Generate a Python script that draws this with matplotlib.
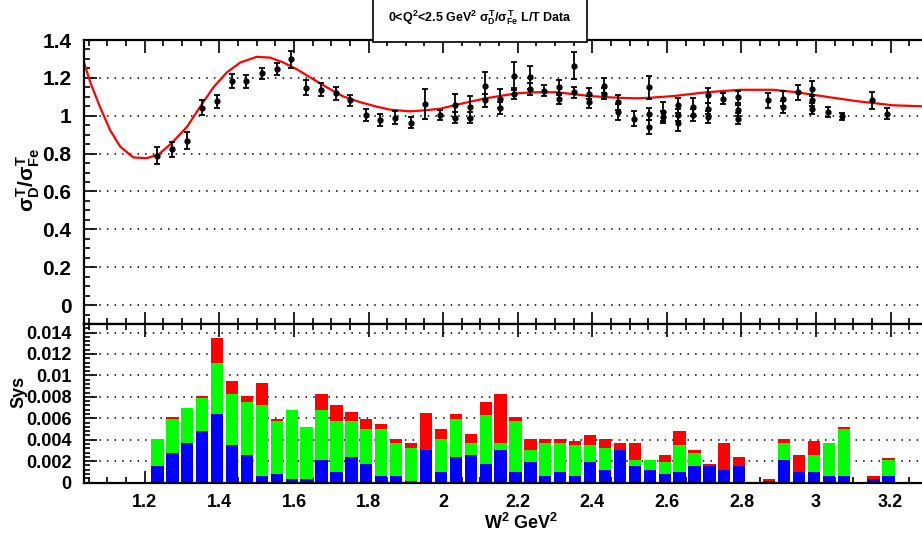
import numpy as np
import matplotlib
matplotlib.use("Agg")
import matplotlib.pyplot as plt
from matplotlib.ticker import MultipleLocator, FuncFormatter

plt.rcParams['font.family'] = ['Liberation Sans', 'DejaVu Sans']
plt.rcParams['mathtext.fontset'] = 'custom'
plt.rcParams['mathtext.rm'] = 'Liberation Sans:bold'
plt.rcParams['mathtext.it'] = 'Liberation Sans:bold'
plt.rcParams['mathtext.bf'] = 'Liberation Sans:bold'

# ratio data points (W^2, ratio, stat error)
w_pts = [1.234, 1.272, 1.314, 1.353, 1.393, 1.435, 1.472, 1.514, 1.554, 1.592,
         1.632, 1.672, 1.712, 1.750, 1.792, 1.831, 1.871, 1.913, 1.951, 1.992,
         2.032, 2.032, 2.072, 2.072, 2.112, 2.112, 2.152, 2.152, 2.191, 2.191,
         2.233, 2.233, 2.271, 2.311, 2.311, 2.351, 2.351, 2.391, 2.391, 2.430,
         2.430, 2.470, 2.470, 2.512, 2.553, 2.553, 2.553, 2.590, 2.590, 2.631,
         2.631, 2.631, 2.671, 2.671, 2.711, 2.711, 2.711, 2.751, 2.790, 2.790,
         2.790, 2.870, 2.910, 2.910, 2.951, 2.990, 2.990, 2.990, 3.031, 3.070,
         3.151, 3.189]
r_pts = [0.789, 0.823, 0.867, 1.043, 1.077, 1.182, 1.182, 1.224, 1.246, 1.298,
         1.147, 1.137, 1.119, 1.081, 1.003, 0.977, 0.990, 0.963, 1.063, 1.003,
         1.055, 0.990, 1.046, 0.990, 1.159, 1.081, 1.090, 1.040, 1.211, 1.116,
         1.203, 1.142, 1.133, 1.150, 1.090, 1.264, 1.124, 1.116, 1.072, 1.159,
         1.116, 1.072, 1.020, 0.985, 1.150, 1.010, 0.940, 1.020, 0.994, 1.055,
         1.003, 0.959, 1.046, 1.003, 1.107, 1.038, 0.994, 1.090, 1.098, 1.029,
         0.985, 1.081, 1.090, 1.046, 1.124, 1.142, 1.081, 1.038, 1.020, 0.997,
         1.081, 1.011]
e_pts = [0.045, 0.040, 0.045, 0.040, 0.035, 0.037, 0.035, 0.030, 0.030, 0.045,
         0.040, 0.035, 0.035, 0.030, 0.030, 0.030, 0.035, 0.030, 0.078, 0.025,
         0.060, 0.030, 0.060, 0.030, 0.070, 0.035, 0.050, 0.030, 0.075, 0.030,
         0.060, 0.030, 0.030, 0.040, 0.030, 0.070, 0.030, 0.030, 0.030, 0.040,
         0.030, 0.040, 0.040, 0.040, 0.060, 0.030, 0.035, 0.050, 0.030, 0.040,
         0.030, 0.040, 0.050, 0.030, 0.040, 0.030, 0.030, 0.030, 0.030, 0.030,
         0.030, 0.040, 0.040, 0.030, 0.040, 0.040, 0.030, 0.030, 0.025, 0.020,
         0.045, 0.030]

# fit curve
w_fit = [1.034, 1.055, 1.080, 1.107, 1.134, 1.169, 1.205, 1.236, 1.272, 1.313,
         1.348, 1.384, 1.420, 1.456, 1.500, 1.536, 1.572, 1.607, 1.643, 1.688,
         1.732, 1.777, 1.822, 1.858, 1.911, 1.947, 1.992, 2.036, 2.072, 2.117,
         2.161, 2.206, 2.251, 2.305, 2.349, 2.394, 2.439, 2.483, 2.519, 2.555,
         2.617, 2.707, 2.796, 2.885, 2.948, 3.028, 3.109, 3.207, 3.284]
r_fit = [1.300, 1.170, 1.046, 0.924, 0.837, 0.780, 0.776, 0.794, 0.855, 0.941,
         1.046, 1.150, 1.229, 1.281, 1.311, 1.307, 1.281, 1.246, 1.203, 1.150,
         1.102, 1.072, 1.048, 1.032, 1.023, 1.028, 1.037, 1.058, 1.074, 1.093,
         1.107, 1.120, 1.124, 1.124, 1.114, 1.104, 1.098, 1.094, 1.092, 1.095,
         1.104, 1.124, 1.137, 1.137, 1.124, 1.100, 1.077, 1.055, 1.050]

# systematic errors: stack tops for blue / green / red
w_sys = [1.234, 1.274, 1.314, 1.354, 1.394, 1.434, 1.474, 1.514, 1.554, 1.594,
         1.634, 1.674, 1.714, 1.754, 1.794, 1.834, 1.874, 1.914, 1.954, 1.994,
         2.034, 2.074, 2.114, 2.154, 2.194, 2.234, 2.274, 2.314, 2.354, 2.394,
         2.434, 2.474, 2.514, 2.554, 2.594, 2.634, 2.674, 2.714, 2.754, 2.794,
         2.874, 2.914, 2.954, 2.994, 3.034, 3.074, 3.154, 3.194]
blue_top = [0.0015, 0.0028, 0.0037, 0.0048, 0.0064, 0.0035, 0.0026, 0.0006, 0.0008, 0.0003,
            0.0003, 0.0021, 0.0010, 0.0024, 0.0017, 0.0006, 0.0006, 0.0001, 0.0030, 0.0010,
            0.0024, 0.0026, 0.0017, 0.0030, 0.0010, 0.0019, 0.0006, 0.0010, 0.0006, 0.0019,
            0.0012, 0.0030, 0.0015, 0.0012, 0.0008, 0.0010, 0.0015, 0.0015, 0.0012, 0.0015,
            0.0001, 0.0021, 0.0010, 0.0010, 0.0006, 0.0006, 0.0003, 0.0006]
green_top = [0.0041, 0.0059, 0.0070, 0.0079, 0.0112, 0.0083, 0.0075, 0.0072, 0.0057, 0.0068,
             0.0052, 0.0068, 0.0057, 0.0057, 0.0050, 0.0050, 0.0037, 0.0032, 0.0030, 0.0041,
             0.0059, 0.0037, 0.0063, 0.0037, 0.0057, 0.0030, 0.0037, 0.0037, 0.0035, 0.0035,
             0.0032, 0.0030, 0.0021, 0.0021, 0.0019, 0.0035, 0.0028, 0.0015, 0.0012, 0.0015,
             0.0001, 0.0037, 0.0010, 0.0026, 0.0037, 0.0050, 0.0003, 0.0021]
red_top = [0.0041, 0.0061, 0.0070, 0.0081, 0.0135, 0.0095, 0.0081, 0.0093, 0.0059, 0.0068,
           0.0052, 0.0083, 0.0072, 0.0066, 0.0059, 0.0055, 0.0041, 0.0037, 0.0065, 0.0050,
           0.0064, 0.0045, 0.0075, 0.0083, 0.0061, 0.0041, 0.0041, 0.0041, 0.0039, 0.0044,
           0.0041, 0.0037, 0.0037, 0.0021, 0.0026, 0.0048, 0.0030, 0.0017, 0.0037, 0.0024,
           0.0003, 0.0041, 0.0026, 0.0039, 0.0037, 0.0052, 0.0006, 0.0023]

fig = plt.figure(figsize=(9.22, 5.37), dpi=100)
L, R = 84 / 922, 1.0
ax1 = fig.add_axes([L, 1 - 324 / 537, R - L, (324 - 40) / 537])
ax2 = fig.add_axes([L, 1 - 482.5 / 537, R - L, (482.5 - 324) / 537], sharex=ax1)

gfmt = FuncFormatter(lambda v, p: '%g' % round(v, 6))
dots = (0, (1, 4))

# top panel
ax1.plot(w_fit, r_fit, color='red', lw=1.6, zorder=2)
ax1.errorbar(w_pts, r_pts, yerr=e_pts, fmt='o', color='black', ms=3.5,
             elinewidth=1.3, capsize=2.5, capthick=1.3, zorder=3)
ax1.set_xlim(1.037, 3.284)
ax1.set_ylim(-0.1, 1.4)
ax1.yaxis.set_major_locator(MultipleLocator(0.2))
ax1.yaxis.set_minor_locator(MultipleLocator(0.05))
ax1.xaxis.set_major_locator(MultipleLocator(0.2))
ax1.yaxis.set_major_formatter(gfmt)
for yv in np.arange(0, 1.41, 0.2):
    ax1.axhline(yv, color='black', lw=1.1, ls=dots, zorder=1)
ax1.tick_params(axis='x', labelbottom=False)

# bottom panel
b = np.array(blue_top)
g = np.maximum(np.array(green_top) - b, 0)
r = np.maximum(np.array(red_top) - np.array(green_top), 0)
bw = 0.033
ax2.bar(w_sys, b, width=bw, color='#0000ff', edgecolor='none', zorder=2)
ax2.bar(w_sys, g, width=bw, bottom=b, color='#00ff00', edgecolor='none', zorder=2)
ax2.bar(w_sys, r, width=bw, bottom=b + g, color='#ff0000', edgecolor='none', zorder=2)
ax2.set_ylim(0, 0.0148)
ax2.yaxis.set_major_locator(MultipleLocator(0.002))
ax2.yaxis.set_minor_locator(MultipleLocator(0.0004))
ax2.yaxis.set_major_formatter(gfmt)
ax2.xaxis.set_major_formatter(gfmt)
for yv in np.arange(0.002, 0.0141, 0.002):
    ax2.axhline(yv, color='black', lw=1.1, ls=dots, zorder=1)

for ax in (ax1, ax2):
    ax.tick_params(which='both', direction='in', top=True, right=False,
                   width=1.2, colors='black')
    ax.tick_params(which='major', length=9)
    ax.tick_params(which='minor', length=4.5)
    for s in ax.spines.values():
        s.set_linewidth(1.6)
    ax.spines['right'].set_visible(False)
    for lab in ax.get_yticklabels() + ax.get_xticklabels():
        lab.set_fontweight('bold')

ax1.tick_params(axis='y', labelsize=15, pad=9)
ax2.tick_params(axis='y', labelsize=13, pad=9)
ax2.tick_params(axis='x', labelsize=13, pad=8)
ax1.xaxis.set_minor_locator(MultipleLocator(0.02))
ax2.xaxis.set_minor_locator(MultipleLocator(0.05))

fig.text(28 / 922, 1 - 180 / 537, r'$\sigma^{T}_{D}/\sigma^{T}_{Fe}$', rotation=90,
         ha='center', va='center', fontsize=15)
fig.text(19 / 922, 1 - 392 / 537, 'Sys', rotation=90, ha='center', va='center',
         fontsize=13, fontweight='bold')
fig.text(521 / 922, 1 - 523 / 537, r'W$^{2}$ GeV$^{2}$', ha='center', va='center',
         fontsize=13, fontweight='bold')
fig.text(480 / 922, 1 - 18 / 537,
         r'0<Q$^{2}$<2.5 GeV$^{2}$ $\sigma^{T}_{D}/\sigma^{T}_{Fe}$ L/T Data',
         ha='center', va='center', fontsize=9, fontweight='bold',
         bbox=dict(boxstyle='square,pad=1.2', facecolor='white', edgecolor='black', lw=1.2))

fig.savefig('out.png', dpi=100)
